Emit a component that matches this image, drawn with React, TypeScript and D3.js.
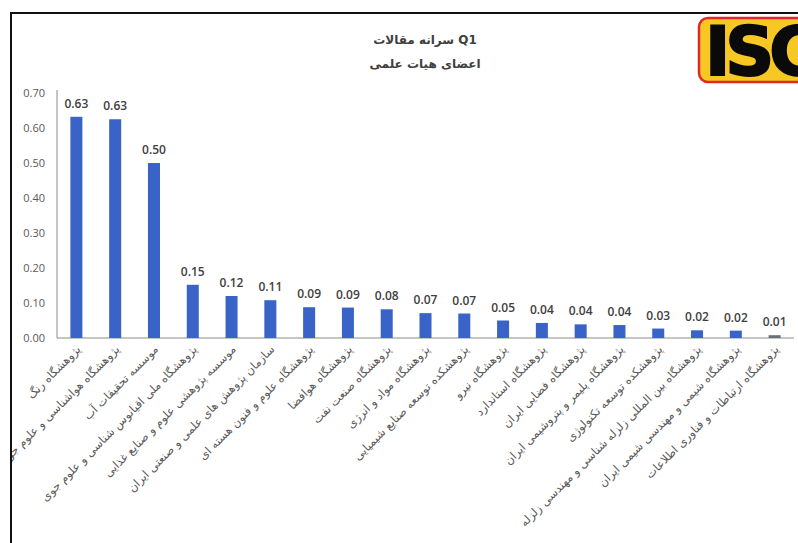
import React from "react";
import * as d3 from "d3";

const categories: string[] = [
  "پژوهشگاه رنگ",
  "پژوهشگاه هواشناسی و علوم جو",
  "موسسه تحقیقات آب",
  "پژوهشگاه ملی اقیانوس شناسی و علوم جوی",
  "موسسه پژوهشی علوم و صنایع غذایی",
  "سازمان پژوهش های علمی و صنعتی ایران",
  "پژوهشگاه علوم و فنون هسته ای",
  "پژوهشگاه هوافضا",
  "پژوهشگاه صنعت نفت",
  "پژوهشگاه مواد و انرژی",
  "پژوهشکده توسعه صنایع شیمیایی",
  "پژوهشگاه نیرو",
  "پژوهشگاه استاندارد",
  "پژوهشگاه فضایی ایران",
  "پژوهشگاه پلیمر و پتروشیمی ایران",
  "پژوهشکده توسعه تکنولوژی",
  "پژوهشگاه بین المللی زلزله شناسی و مهندسی زلزله",
  "پژوهشگاه شیمی و مهندسی شیمی ایران",
  "پژوهشگاه ارتباطات و فناوری اطلاعات",
];

const values: number[] = [
  0.632, 0.625, 0.5, 0.152, 0.12, 0.108, 0.088, 0.087, 0.082, 0.071, 0.07,
  0.05, 0.043, 0.039, 0.037, 0.027, 0.022, 0.021, 0.008,
];

const yTicks: number[] = [0, 0.1, 0.2, 0.3, 0.4, 0.5, 0.6, 0.7];

const titleLines: string[] = ["سرانه مقالات Q1", "اعضای هیات علمی"];

const W = 798;
const H = 543;
const plotLeft = 57;
const plotRight = 794;
const plotTop = 93;
const plotBottom = 338;

export default function App() {
  const x = d3
    .scaleBand<string>()
    .domain(categories)
    .range([plotLeft, plotRight])
    .paddingInner(0.69)
    .paddingOuter(0.345);
  const y = d3.scaleLinear().domain([0, 0.7]).range([plotBottom, plotTop]);
  const fontFa = "'DejaVu Sans', sans-serif";
  const fontNum = "'Open Sans', 'Liberation Sans', sans-serif";

  return (
    <svg
      width={W}
      height={H}
      style={{ position: "absolute", left: 0, top: 0, background: "#fff" }}
    >
      <defs>
        <clipPath id="frameClip">
          <rect x={12} y={14} width={W - 12} height={H - 14} />
        </clipPath>
        <clipPath id="logoClip">
          <rect x={690} y={14} width={108} height={80} />
        </clipPath>
      </defs>
      <rect x={0} y={0} width={W} height={H} fill="#fff" />
      {/* frame */}
      <line x1={11} y1={13} x2={W} y2={13} stroke="#111" strokeWidth={2} />
      <line x1={11} y1={12} x2={11} y2={H} stroke="#111" strokeWidth={2} />

      {/* title */}
      {titleLines.map((t, i) => (
        <text
          key={i}
          x={425}
          y={44 + i * 24}
          textAnchor="middle"
          fontFamily={fontFa}
          fontSize={12}
          fontWeight={600}
          fill="#404040"
        >
          {t}
        </text>
      ))}

      {/* logo */}
      <g clipPath="url(#logoClip)">
        <rect
          x={699}
          y={18}
          width={120}
          height={64}
          rx={9}
          fill="#f7c823"
          stroke="#e0282a"
          strokeWidth={2.5}
        />
        <text
          x={705}
          y={75}
          fontFamily="'DejaVu Sans', sans-serif"
          fontWeight="900"
          fontSize={68}
          fill="#0a0a0a"
          stroke="#0a0a0a"
          strokeWidth={2}
          letterSpacing={-5}
        >
          ISC
        </text>
      </g>

      <g clipPath="url(#frameClip)">
        {/* y axis labels */}
        {yTicks.map((t) => (
          <text
            key={t}
            x={45}
            y={y(t)}
            dy="0.35em"
            textAnchor="end"
            fontFamily={fontNum}
            fontSize={11}
            fill="#595959"
          >
            {t.toFixed(2)}
          </text>
        ))}
        {/* axes lines */}
        <line
          x1={plotLeft}
          y1={plotTop - 3}
          x2={plotLeft}
          y2={plotBottom}
          stroke="#8c8c8c"
          strokeWidth={1}
        />
        <line
          x1={plotLeft}
          y1={plotBottom}
          x2={plotRight}
          y2={plotBottom}
          stroke="#8c8c8c"
          strokeWidth={1}
        />

        {/* bars */}
        {categories.map((c, i) => {
          const v = values[i];
          const bx = x(c)!;
          const last = i === categories.length - 1;
          return (
            <g key={c}>
              <rect
                x={bx}
                y={y(v)}
                width={x.bandwidth()}
                height={plotBottom - y(v)}
                fill={last ? "#6b6f78" : "#3a63c8"}
              />
              <text
                x={bx + x.bandwidth() / 2}
                y={y(v) - 9}
                textAnchor="middle"
                fontFamily={fontNum}
                fontSize={12}
                fontWeight={600}
                fill="#404040"
              >
                {v.toFixed(2)}
              </text>
              <text
                transform={`translate(${bx + x.bandwidth() / 2 + 5},${
                  plotBottom + 12
                }) rotate(-45)`}
                textAnchor="end"
                fontFamily={fontFa}
                fontSize={11.5}
                fill="#595959"
              >
                {c}
              </text>
            </g>
          );
        })}
      </g>
    </svg>
  );
}
